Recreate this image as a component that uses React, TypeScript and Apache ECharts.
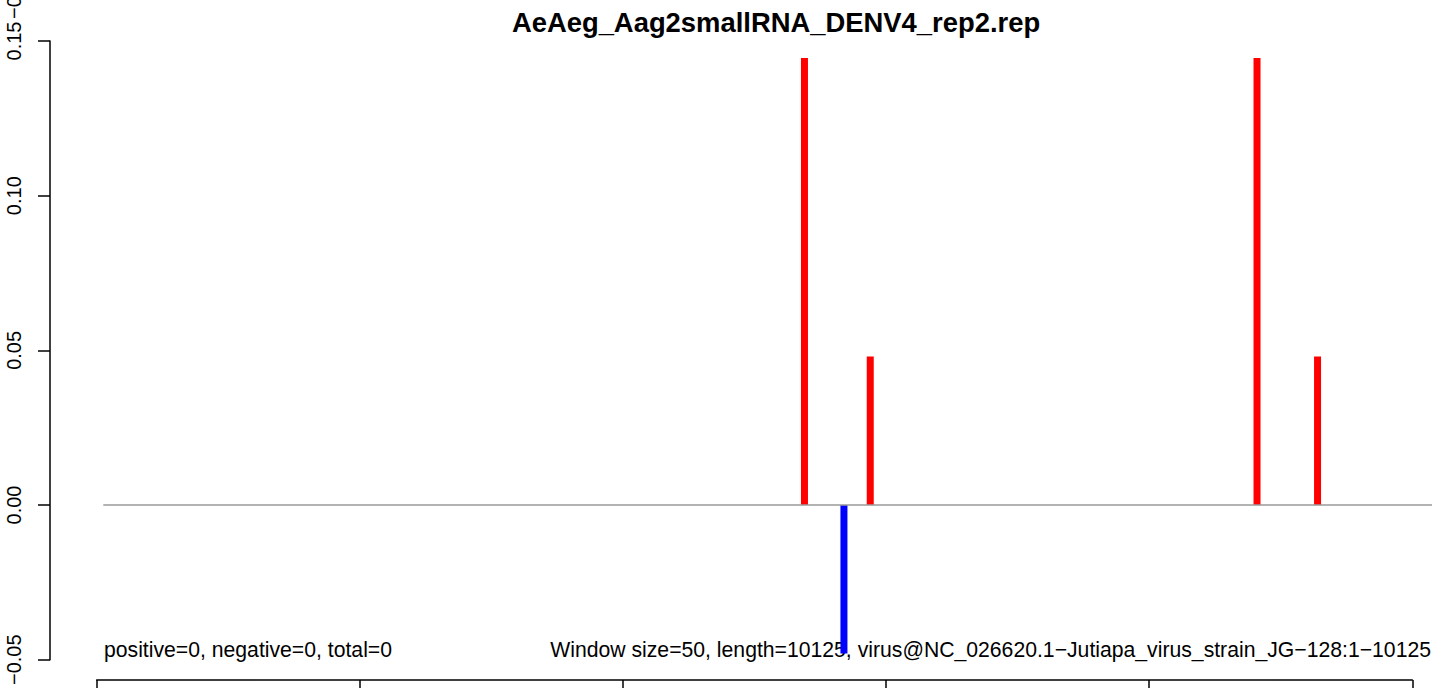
import React, { useEffect, useRef } from "react";
import * as echarts from "echarts";

const titleText = "AeAeg_Aag2smallRNA_DENV4_rep2.rep";
const leftNote = "positive=0, negative=0, total=0";
const rightNote = "Window size=50, length=10125, virus@NC_026620.1\u2212Jutiapa_virus_strain_JG\u2212128:1\u221210125";

// positions (nt) and values of the bars
const positivePos = [5380, 5880, 8820, 9280];
const positiveVal = [0.1445, 0.048, 0.1445, 0.048];
const negativePos = [5680];
const negativeVal = [-0.048];
const baselineX = [50, 10150];
const yTicks = [-0.05, 0, 0.05, 0.1, 0.15];
const xTicks = [0, 2000, 4000, 6000, 8000, 10000];
const plotMaxX = 10150;

const FONT = "'Liberation Sans', Arial, Helvetica, sans-serif";

export default function App() {
  const ref = useRef<HTMLDivElement>(null);
  useEffect(() => {
    if (!ref.current) return;
    const chart = echarts.init(ref.current, null, { renderer: "svg" });
    const barData: any[] = [];
    positivePos.forEach((p, i) =>
      barData.push({ value: [p, positiveVal[i]], itemStyle: { color: "#ff0000" } })
    );
    negativePos.forEach((p, i) =>
      barData.push({ value: [p, negativeVal[i]], itemStyle: { color: "#0000ff" } })
    );
    chart.setOption({
      animation: false,
      backgroundColor: "#ffffff",
      textStyle: { fontFamily: FONT },
      grid: [
        { left: 96.7, right: 12, top: 41, bottom: 27, containLabel: false },
        { left: 96.7, right: 1444 - 1412.3, top: 41, bottom: 27, containLabel: false },
      ],
      xAxis: [
        {
          gridIndex: 0,
          type: "value",
          min: 0,
          max: plotMaxX,
          show: false,
        },
        {
          gridIndex: 1,
          type: "value",
          min: xTicks[0],
          max: xTicks[xTicks.length - 1],
          interval: 2000,
          position: "bottom",
          offset: 19,
          axisLine: { show: true, onZero: false, lineStyle: { color: "#000", width: 1.5 } },
          axisTick: { show: true, inside: false, length: 12, lineStyle: { color: "#000", width: 1.5 } },
          axisLabel: { show: false },
          splitLine: { show: false },
        },
      ],
      yAxis: [
        {
          gridIndex: 0,
          type: "value",
          min: yTicks[0],
          max: yTicks[yTicks.length - 1],
          interval: 0.05,
          position: "left",
          offset: 46.7,
          axisLine: { show: true, onZero: false, lineStyle: { color: "#000", width: 1.5 } },
          axisTick: { show: true, inside: false, length: 12, lineStyle: { color: "#000", width: 1.5 } },
          axisLabel: {
            show: true,
            rotate: 90,
            margin: 26,
            fontSize: 20,
            color: "#000",
            fontFamily: FONT,
            formatter: (v: number) => {
              const s = Math.abs(v) < 1e-9 ? "0.00" : v.toFixed(2);
              return s.replace("-", "\u2212");
            },
          },
          splitLine: { show: false },
        },
        {
          gridIndex: 1,
          type: "value",
          min: yTicks[0],
          max: yTicks[yTicks.length - 1],
          show: false,
        },
      ],
      series: [
        {
          type: "bar",
          xAxisIndex: 0,
          yAxisIndex: 0,
          data: barData,
          barWidth: 7,
          z: 2,
        },
        {
          type: "line",
          xAxisIndex: 0,
          yAxisIndex: 0,
          data: [
            [baselineX[0], 0],
            [baselineX[1], 0],
          ],
          clip: false,
          symbol: "none",
          lineStyle: { color: "#9a9a9a", width: 1.5 },
          z: 3,
        },
      ],
      graphic: [
        {
          type: "text",
          x: 776,
          y: 22,
          style: {
            text: titleText,
            font: `bold 27.4px ${FONT}`,
            fill: "#000",
            align: "center",
            verticalAlign: "middle",
          },
        },
        {
          type: "text",
          x: 104,
          y: 649,
          style: {
            text: leftNote,
            font: `21.2px ${FONT}`,
            fill: "#000",
            align: "left",
            verticalAlign: "middle",
          },
        },
        {
          type: "text",
          x: 1431,
          y: 649,
          style: {
            text: rightNote,
            font: `21.2px ${FONT}`,
            fill: "#000",
            align: "right",
            verticalAlign: "middle",
          },
        },
        {
          type: "text",
          x: 14,
          y: 19,
          rotation: Math.PI / 2,
          style: {
            text: "\u22120.05",
            font: `20px ${FONT}`,
            fill: "#000",
            align: "left",
            verticalAlign: "middle",
          },
        },
      ],
    });
    return () => chart.dispose();
  }, []);
  return (
    <div
      ref={ref}
      style={{ position: "fixed", left: 0, top: 0, width: 1444, height: 688 }}
    />
  );
}
